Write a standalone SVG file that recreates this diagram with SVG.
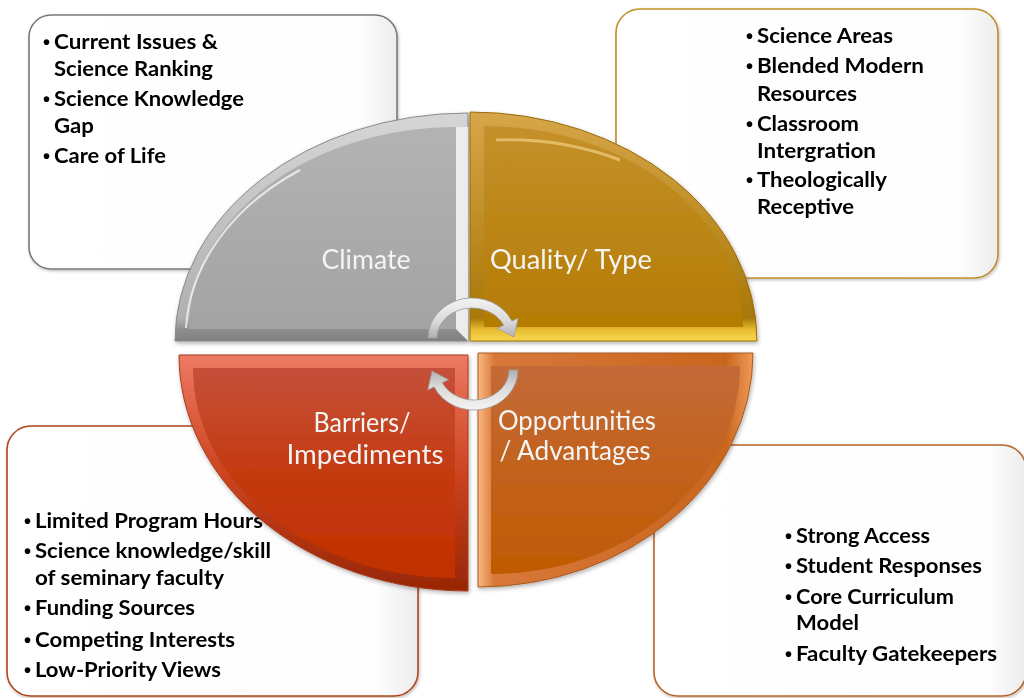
<svg xmlns="http://www.w3.org/2000/svg" width="1024" height="698" viewBox="0 0 1024 698">
<defs>
<style>
.bt{font-family:Lato,"Liberation Sans",sans-serif;font-weight:700;font-size:21px;fill:#000}
.bu{font-family:"Liberation Sans",sans-serif;font-weight:700;font-size:20px}
.ql{font-family:Lato,"Liberation Sans",sans-serif;font-size:27px;fill:#f4f4f4}
.box{stroke-width:1.6}
</style>
<linearGradient id="boxFill" x1="0" y1="0" x2="1" y2="0">
<stop offset="0" stop-color="#ffffff"/>
<stop offset="0.9" stop-color="#fdfdfd"/>
<stop offset="1" stop-color="#ececec"/>
</linearGradient>
<filter id="sh" x="-10%" y="-10%" width="120%" height="120%">
<feDropShadow dx="1" dy="2" stdDeviation="2" flood-color="#000" flood-opacity="0.3"/>
</filter>
<filter id="bsh" x="-5%" y="-5%" width="110%" height="110%">
<feDropShadow dx="1" dy="1.5" stdDeviation="1.5" flood-color="#000" flood-opacity="0.25"/>
</filter>
<linearGradient id="grayBev" x1="0" y1="0" x2="0" y2="1">
<stop offset="0" stop-color="#d6d6d6"/>
<stop offset="0.9" stop-color="#b0b0b0"/>
<stop offset="0.95" stop-color="#8e8e8e"/>
<stop offset="1" stop-color="#7f7f7f"/>
</linearGradient>
<linearGradient id="grayMain" x1="0" y1="0" x2="0" y2="1">
<stop offset="0" stop-color="#b3b3b3"/>
<stop offset="1" stop-color="#a3a3a3"/>
</linearGradient>
<linearGradient id="goldBev" x1="0" y1="0" x2="0" y2="1">
<stop offset="0" stop-color="#d6a648"/>
<stop offset="0.9" stop-color="#a87808"/>
<stop offset="0.95" stop-color="#e8bc30"/>
<stop offset="1" stop-color="#f8d850"/>
</linearGradient>
<linearGradient id="goldMain" x1="0" y1="0" x2="0" y2="1">
<stop offset="0" stop-color="#c4902a"/>
<stop offset="1" stop-color="#b47c04"/>
</linearGradient>
<linearGradient id="redBev" x1="0" y1="0" x2="0" y2="1">
<stop offset="0" stop-color="#ec7a62"/>
<stop offset="0.5" stop-color="#cc4420"/>
<stop offset="1" stop-color="#982604"/>
</linearGradient>
<linearGradient id="redMain" x1="0" y1="0" x2="0" y2="1">
<stop offset="0" stop-color="#c5503a"/>
<stop offset="0.5" stop-color="#c43a10"/>
<stop offset="1" stop-color="#c03000"/>
</linearGradient>
<linearGradient id="orBev" x1="0" y1="0" x2="1" y2="0">
<stop offset="0" stop-color="#fbb880"/>
<stop offset="0.06" stop-color="#d8783a"/>
<stop offset="0.9" stop-color="#c8661e"/>
<stop offset="1" stop-color="#f09a58"/>
</linearGradient>
<linearGradient id="orMain" x1="0" y1="0" x2="0" y2="1">
<stop offset="0" stop-color="#c46a38"/>
<stop offset="1" stop-color="#c05a02"/>
</linearGradient>
<linearGradient id="arrowFill" x1="0" y1="0" x2="0" y2="1">
<stop offset="0" stop-color="#f4f4f4"/>
<stop offset="0.6" stop-color="#d9d9d9"/>
<stop offset="1" stop-color="#aeaeae"/>
</linearGradient>
<path id="cyc" d="M428,338 A44,40 0 0 1 511.9,321.1 L518.2,318.1 L514,337 L497.4,328.3 L503.7,325.3 A35,30 0 0 0 437,338 Z" fill="url(#arrowFill)" stroke="#9a9a9a" stroke-width="0.8"/>
</defs>

<rect width="1024" height="698" fill="#ffffff"/>

<g id="box-climate" filter="url(#bsh)">
<rect class="box" x="29" y="15" width="368" height="254" rx="22" fill="url(#boxFill)" stroke="#7a7a7a"/>
<text class="bt"><tspan class="bu" x="43" y="49">•</tspan><tspan x="54" y="49" textLength="164" lengthAdjust="spacingAndGlyphs">Current Issues &amp;</tspan></text>
<text class="bt" x="54" y="76" textLength="159" lengthAdjust="spacingAndGlyphs">Science Ranking</text>
<text class="bt"><tspan class="bu" x="43" y="106">•</tspan><tspan x="54" y="106" textLength="190" lengthAdjust="spacingAndGlyphs">Science Knowledge</tspan></text>
<text class="bt" x="54" y="133" textLength="40" lengthAdjust="spacingAndGlyphs">Gap</text>
<text class="bt"><tspan class="bu" x="43" y="163">•</tspan><tspan x="54" y="163" textLength="112" lengthAdjust="spacingAndGlyphs">Care of Life</tspan></text>
</g>

<g id="box-quality" filter="url(#bsh)">
<rect class="box" x="616" y="9" width="382" height="269" rx="24" fill="url(#boxFill)" stroke="#c0902a"/>
<text class="bt"><tspan class="bu" x="746" y="43">•</tspan><tspan x="757" y="43" textLength="136" lengthAdjust="spacingAndGlyphs">Science Areas</tspan></text>
<text class="bt"><tspan class="bu" x="746" y="73">•</tspan><tspan x="757" y="73" textLength="167" lengthAdjust="spacingAndGlyphs">Blended Modern</tspan></text>
<text class="bt" x="757" y="101" textLength="100" lengthAdjust="spacingAndGlyphs">Resources</text>
<text class="bt"><tspan class="bu" x="746" y="131">•</tspan><tspan x="757" y="131" textLength="102" lengthAdjust="spacingAndGlyphs">Classroom</tspan></text>
<text class="bt" x="757" y="158" textLength="119" lengthAdjust="spacingAndGlyphs">Intergration</text>
<text class="bt"><tspan class="bu" x="746" y="187">•</tspan><tspan x="757" y="187" textLength="130" lengthAdjust="spacingAndGlyphs">Theologically</tspan></text>
<text class="bt" x="757" y="214" textLength="97" lengthAdjust="spacingAndGlyphs">Receptive</text>
</g>

<g id="box-barriers" filter="url(#bsh)">
<rect class="box" x="7" y="426" width="411" height="270" rx="24" fill="url(#boxFill)" stroke="#b0461e"/>
<text class="bt"><tspan class="bu" x="24" y="528">•</tspan><tspan x="35" y="528" textLength="228" lengthAdjust="spacingAndGlyphs">Limited Program Hours</tspan></text>
<text class="bt"><tspan class="bu" x="24" y="558">•</tspan><tspan x="35" y="558" textLength="236" lengthAdjust="spacingAndGlyphs">Science knowledge/skill</tspan></text>
<text class="bt" x="35" y="585" textLength="189" lengthAdjust="spacingAndGlyphs">of seminary faculty</text>
<text class="bt"><tspan class="bu" x="24" y="615">•</tspan><tspan x="35" y="615" textLength="160" lengthAdjust="spacingAndGlyphs">Funding Sources</tspan></text>
<text class="bt"><tspan class="bu" x="24" y="647">•</tspan><tspan x="35" y="647" textLength="200" lengthAdjust="spacingAndGlyphs">Competing Interests</tspan></text>
<text class="bt"><tspan class="bu" x="24" y="677">•</tspan><tspan x="35" y="677" textLength="186" lengthAdjust="spacingAndGlyphs">Low-Priority Views</tspan></text>
</g>

<g id="box-opportunities" filter="url(#bsh)">
<rect class="box" x="654" y="445" width="372" height="251" rx="24" fill="url(#boxFill)" stroke="#b8642a"/>
<text class="bt"><tspan class="bu" x="785" y="543">•</tspan><tspan x="796" y="543" textLength="134" lengthAdjust="spacingAndGlyphs">Strong Access</tspan></text>
<text class="bt"><tspan class="bu" x="785" y="573">•</tspan><tspan x="796" y="573" textLength="186" lengthAdjust="spacingAndGlyphs">Student Responses</tspan></text>
<text class="bt"><tspan class="bu" x="785" y="604">•</tspan><tspan x="796" y="604" textLength="158" lengthAdjust="spacingAndGlyphs">Core Curriculum</tspan></text>
<text class="bt" x="796" y="630" textLength="63" lengthAdjust="spacingAndGlyphs">Model</text>
<text class="bt"><tspan class="bu" x="785" y="661">•</tspan><tspan x="796" y="661" textLength="201" lengthAdjust="spacingAndGlyphs">Faculty Gatekeepers</tspan></text>
</g>

<g id="q-climate" filter="url(#sh)">
<path d="M468,341 L175,341 A293,228 0 0 1 468,113 Z" fill="url(#grayBev)" stroke="#8a8a8a" stroke-width="1"/>
<path d="M468,127 L468,341 L456,329 L456,127 Z" fill="#ececec"/>
<path d="M456,329 L189,329 A267,202 0 0 1 456,127 Z" fill="url(#grayMain)"/>
<path d="M186,328 A270,205 0 0 1 300,170" fill="none" stroke="#ffffff" stroke-opacity="0.7" stroke-width="2"/>
<text class="ql" x="366" y="269" text-anchor="middle" textLength="89" lengthAdjust="spacingAndGlyphs">Climate</text>
</g>

<g id="q-quality" filter="url(#sh)">
<path d="M470,341 L470,112 A287,229 0 0 1 757,341 Z" fill="url(#goldBev)" stroke="#9a6c08" stroke-width="1"/>
<path d="M484,327 L484,126 A259,201 0 0 1 743,327 Z" fill="url(#goldMain)"/>
<path d="M496,140 A250,190 0 0 1 620,160" fill="none" stroke="#f0d080" stroke-opacity="0.7" stroke-width="3"/>
<text class="ql" x="571" y="269" text-anchor="middle" textLength="162" lengthAdjust="spacingAndGlyphs">Quality/ Type</text>
</g>

<g id="q-barriers" filter="url(#sh)">
<path d="M468,355 L179,355 A289,236 0 0 0 468,591 Z" fill="url(#redBev)" stroke="#a83a1c" stroke-width="1"/>
<path d="M455,368 L193,368 A262,210 0 0 0 455,578 Z" fill="url(#redMain)"/>
<text class="ql" x="362" y="432" text-anchor="middle" textLength="97" lengthAdjust="spacingAndGlyphs">Barriers/</text>
<text class="ql" x="365" y="464" text-anchor="middle" textLength="157" lengthAdjust="spacingAndGlyphs">Impediments</text>
</g>

<g id="q-opportunities" filter="url(#sh)">
<path d="M478,353 L753,353 A275,234 0 0 1 478,587 Z" fill="url(#orBev)" stroke="#a85a20" stroke-width="1"/>
<path d="M491,366 L740,366 A249,208 0 0 1 491,574 Z" fill="url(#orMain)"/>
<text class="ql" x="577" y="430" text-anchor="middle" textLength="158" lengthAdjust="spacingAndGlyphs">Opportunities</text>
<text class="ql" x="575" y="460" text-anchor="middle" textLength="151" lengthAdjust="spacingAndGlyphs">/ Advantages</text>
</g>

<g id="connectors">
<use href="#cyc"/>
<use href="#cyc" transform="rotate(180 473 354)"/>
</g>
</svg>
